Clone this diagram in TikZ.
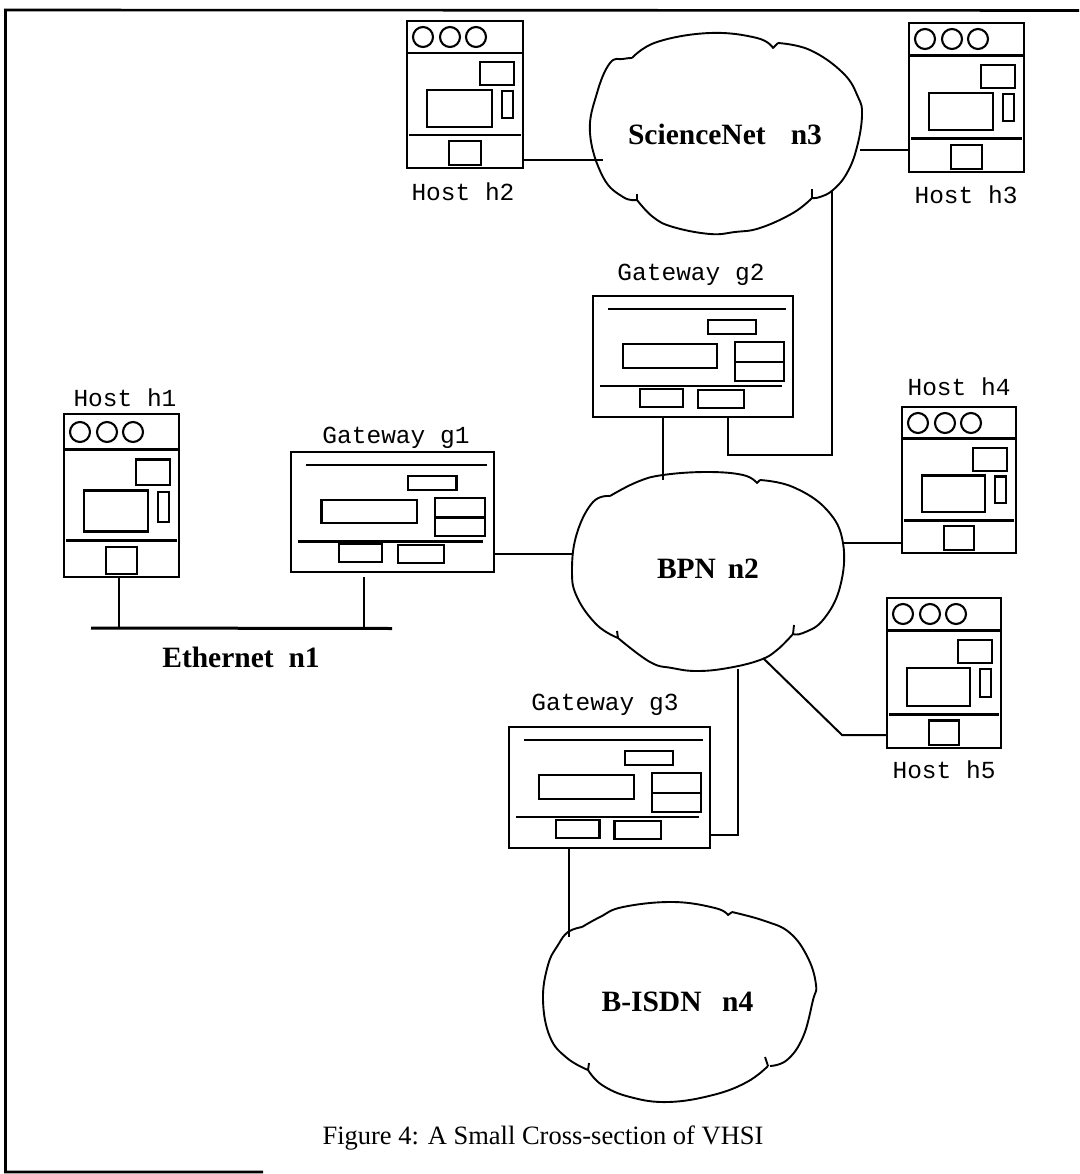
\documentclass[tikz,border=0pt]{standalone}
\usepackage{fontspec}
\setmainfont{Liberation Serif}
\newfontfamily\monof{Liberation Mono}
\tikzset{
  frame/.style={draw=black,line width=2.3pt,fill=none,minimum width=#1,anchor=north west,inner sep=0pt,outer sep=0pt},
  part/.style={draw=black,line width=2.1pt},
  rulerline/.style={draw=black,line width=2.6pt},
  wire/.style={draw=black,line width=2pt},
  cloudline/.style={draw=black,line width=1.9pt,line join=round},
  hostlabel/.style={inner sep=0pt,font=\monof\fontsize{24.5}{26}\selectfont},
  netlabel/.style={inner sep=0pt,font=\bfseries\fontsize{29.5}{31}\selectfont},
  caption/.style={inner sep=0pt,font=\fontsize{26.5}{28}\selectfont},
  border/.style={draw=black,line width=2.6pt},
}
\newcommand{\hostbox}[6]{%
  \node[frame=#4pt,minimum height=#5pt] (#1) at (#2,#3) {};
  \begin{scope}[shift={(#2,#3)}]
    \draw[part] (16,#6) circle (10) (43,#6) circle (10) (69,#6) circle (10);
  \end{scope}
  \begin{scope}[shift={(#2,#3)},xscale=#4/115,yscale=#5/147]
    \draw[rulerline] (0,32) -- (115,32);
    \draw[rulerline] (2,114) -- (113,114);
    \draw[part] (72,41) rectangle (106,64);
    \draw[part] (20,69) rectangle (84,106);
    \draw[part] (94,70) rectangle (105,97);
    \draw[part] (42,120) rectangle (73,144);
  \end{scope}}
\newcommand{\gatewaybox}[5]{%
  \node[frame=#4pt,minimum height=#5pt] (#1) at (#2,#3) {};
  \begin{scope}[shift={(#2,#3)},xscale=#4/200,yscale=#5/121]
    \draw[rulerline] (15,13) -- (193,13);
    \draw[rulerline] (7,90) -- (189,90);
    \draw[part] (115,24) rectangle (163,38);
    \draw[part] (30,48) rectangle (124,72);
    \draw[part] (142,46) rectangle (191,85);
    \draw[rulerline] (142,66) -- (191,66);
    \draw[part] (47,93) rectangle (90,111);
    \draw[part] (105,94) rectangle (151,112);
  \end{scope}}
\begin{document}
\begin{tikzpicture}[x=1pt,y=-1pt]
\useasboundingbox (0,0) rectangle (1079,1174);
% page border
\coordinate (bTL) at (5.5,10);
\coordinate (bTR) at (1079,10.5);
\coordinate (bBR) at (263,1172);
\draw[border] (bTR) -- (bTL) |- (bBR);
% hosts
\hostbox{h1}{64}{414}{115}{163}{18}
\hostbox{h2}{407}{21}{116}{147}{16}
\hostbox{h3}{909}{23}{115}{149}{16}
\hostbox{h4}{902}{407}{114}{146}{16}
\hostbox{h5}{887}{598}{114}{150}{16}
\node[hostlabel] (h1l) at (125,398) {Host h1};
\node[hostlabel] (h2l) at (463,192) {Host h2};
\node[hostlabel] (h3l) at (966,195) {Host h3};
\node[hostlabel] (h4l) at (959,387) {Host h4};
\node[hostlabel] (h5l) at (944,770) {Host h5};
% gateways
\gatewaybox{g1}{291}{452}{203}{120}
\gatewaybox{g2}{593}{296}{200}{121}
\gatewaybox{g3}{509}{727}{201}{121}
\node[hostlabel] (g1l) at (396,438) {Gateway g1};
\node[hostlabel] (g2l) at (691,275) {Gateway g2};
\node[hostlabel] (g3l) at (605,705) {Gateway g3};
% ScienceNet cloud
\draw[cloudline] plot[smooth,tension=.7] coordinates {(632,58) (657,42) (710,33) (757,38) (773,48)} -- (778,43);
\draw[cloudline] plot[smooth,tension=.7] coordinates {(778,43) (810,50) (843,73) (858,97) (862,115) (857,147) (847,173) (833,190) (820,197) (812,198)};
\draw[cloudline] (812,189) -- (812,198);
\draw[cloudline] plot[smooth,tension=.7] coordinates {(812,198) (793,213) (760,228) (735,232) (710,234) (673,227) (653,217) (637,200)};
\draw[cloudline] (637,194) -- (637,201);
\draw[cloudline] plot[smooth,tension=.7] coordinates {(637,200) (623,197) (603,177) (590,133) (597,93) (610,63) (623,59) (632,58)};
\node[netlabel] (n3) at (725,134) {ScienceNet\hspace{.6em} n3};
% BPN cloud
\draw[cloudline] plot[smooth,tension=.7] coordinates {(610,496) (637,482) (663,475) (707,472) (743,475) (757,483)} -- (760,480);
\draw[cloudline] plot[smooth,tension=.7] coordinates {(760,480) (793,487) (827,510) (843,543) (840,587) (823,620) (803,633) (793,634)};
\draw[cloudline] (794,625) -- (793,634);
\draw[cloudline] plot[smooth,tension=.7] coordinates {(793,634) (777,650) (760,660) (728,668) (697,671) (672,668) (650,662) (618,638)};
\draw[cloudline] (617,631) -- (618,638);
\draw[cloudline] plot[smooth,tension=.7] coordinates {(618,638) (597,625) (577,597) (572,570) (577,533) (593,502) (610,496)};
\node[netlabel] (n2) at (708,569) {BPN\hspace{.15em} n2};
% B-ISDN cloud
\draw[cloudline] plot[smooth,tension=.7] coordinates {(582,927) (600,917) (623,907) (673,902) (715,908) (728,915)} -- (732,912);
\draw[cloudline] plot[smooth,tension=.7] coordinates {(732,912) (765,921) (790,933) (808,958) (816,985) (813,1000) (803,1037) (787,1060) (770,1066)};
\draw[cloudline] (765,1057) -- (768,1066);
\draw[cloudline] plot[smooth,tension=.7] coordinates {(768,1066) (747,1082) (713,1095) (668,1102) (630,1097) (602,1085) (588,1070)};
\draw[cloudline] (589,1063) -- (588,1070);
\draw[cloudline] plot[smooth,tension=.7] coordinates {(588,1070) (567,1058) (550,1037) (543,1000) (548,965) (558,945) (568,932) (582,927)};
\node[netlabel] (n4) at (677.5,1002) {B-ISDN\hspace{.45em} n4};
% Ethernet
\coordinate (busL) at (91,628);
\coordinate (busR) at (392,628.5);
\coordinate (bus1) at (119,628);
\coordinate (bus2) at (364,628);
\draw[line width=3pt] (busL) -- (busR);
\node[netlabel] (n1) at (241,657) {Ethernet\hspace{.25em} n1};
% anchor points on the clouds
\coordinate (n3w) at (603,160);
\coordinate (n3e) at (860,150);
\coordinate (n3s) at (832,190);
\coordinate (n2n) at (663,480);
\coordinate (n2w) at (572,554);
\coordinate (n2e) at (843,543);
\coordinate (n2d) at (763,658);
\coordinate (n2s) at (738,669);
\coordinate (n4n) at (569,937);
\coordinate (bendA) at (728,455);
\coordinate (bendB) at (832,455);
\coordinate (bendC) at (842,735);
\coordinate (bendD) at (738,835);
% connectors
\draw[wire] (h1.south -| bus1) -- (bus1);
\draw[wire,shorten <=5pt] (g1.south -| bus2) -- (bus2);
\draw[wire] (g1.east |- n2w) -- (n2w);
\draw[wire] (h2.east |- n3w) -- (n3w);
\draw[wire] (n3e) -- (h3.west |- n3e);
\draw[wire] (g2.south -| n2n) -- (n2n);
\draw[wire] (g2.south -| bendA) -- (bendA) -- (bendB) -- (n3s);
\draw[wire] (n2e) -- (h4.west |- n2e);
\draw[wire] (n2d) -- (bendC) -- (h5.west |- bendC);
\draw[wire] (n2s) -- (bendD) -- (g3.east |- bendD);
\draw[wire] (g3.south -| n4n) -- (n4n);
% caption
\node[caption] (cap) at (543,1138) {Figure 4: A Small Cross-section of VHSI};
\end{tikzpicture}
\end{document}
